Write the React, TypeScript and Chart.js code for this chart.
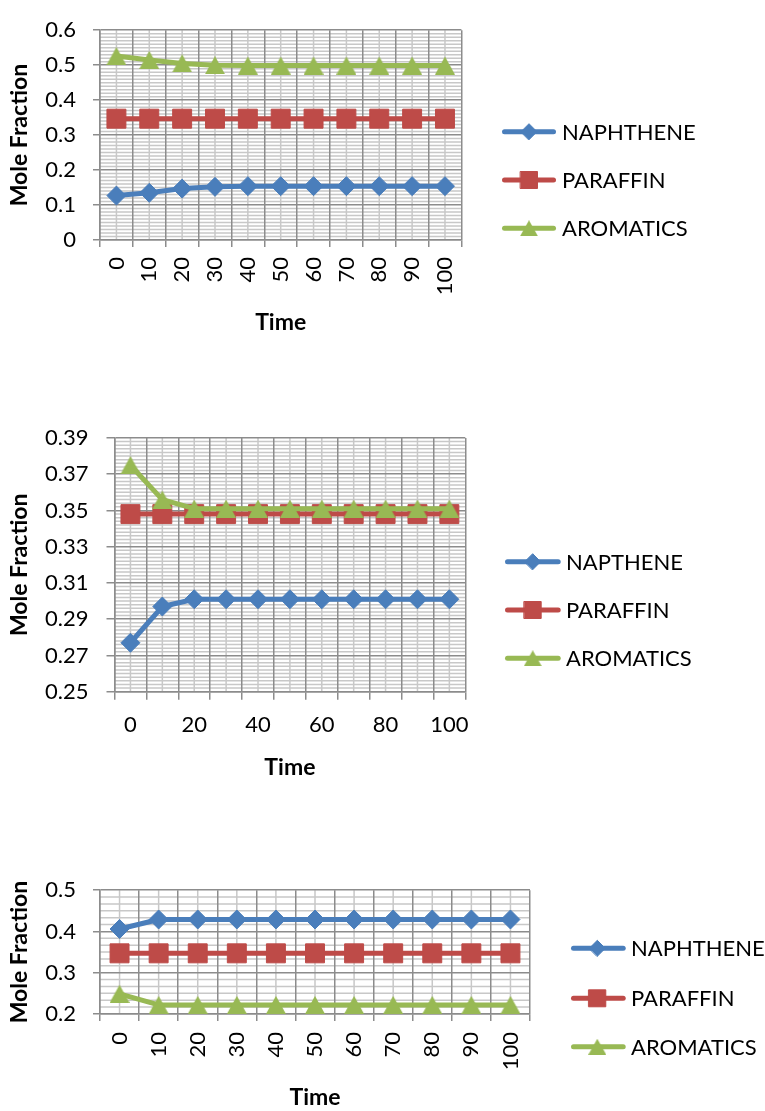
import React, { useEffect, useRef } from 'react';
import { Chart, registerables } from 'chart.js';
import { drawPoint } from 'chart.js/helpers';

Chart.register(...registerables);

// ---------- data ----------
const timeLabels = ['0', '10', '20', '30', '40', '50', '60', '70', '80', '90', '100'];

const names1 = ['NAPHTHENE', 'PARAFFIN', 'AROMATICS'];
const naphthene1 = [0.127, 0.135, 0.147, 0.152, 0.154, 0.154, 0.154, 0.154, 0.154, 0.154, 0.154];
const paraffin1 = [0.347, 0.347, 0.347, 0.347, 0.347, 0.347, 0.347, 0.347, 0.347, 0.347, 0.347];
const aromatics1 = [0.526, 0.515, 0.505, 0.5, 0.499, 0.499, 0.499, 0.499, 0.499, 0.499, 0.499];
const yTicks1 = [0, 0.1, 0.2, 0.3, 0.4, 0.5, 0.6];
const yTickLabels1 = ['0', '0.1', '0.2', '0.3', '0.4', '0.5', '0.6'];

const names2 = ['NAPTHENE', 'PARAFFIN', 'AROMATICS'];
const naphthene2 = [0.277, 0.297, 0.301, 0.301, 0.301, 0.301, 0.301, 0.301, 0.301, 0.301, 0.301];
const paraffin2 = [0.348, 0.348, 0.348, 0.348, 0.348, 0.348, 0.348, 0.348, 0.348, 0.348, 0.348];
const aromatics2 = [0.375, 0.356, 0.351, 0.351, 0.351, 0.351, 0.351, 0.351, 0.351, 0.351, 0.351];
const yTicks2 = [0.25, 0.27, 0.29, 0.31, 0.33, 0.35, 0.37, 0.39];
const yTickLabels2 = ['0.25', '0.27', '0.29', '0.31', '0.33', '0.35', '0.37', '0.39'];

const names3 = ['NAPHTHENE', 'PARAFFIN', 'AROMATICS'];
const naphthene3 = [0.406, 0.429, 0.429, 0.429, 0.429, 0.429, 0.429, 0.429, 0.429, 0.429, 0.429];
const paraffin3 = [0.347, 0.347, 0.347, 0.347, 0.347, 0.347, 0.347, 0.347, 0.347, 0.347, 0.347];
const aromatics3 = [0.249, 0.222, 0.222, 0.222, 0.222, 0.222, 0.222, 0.222, 0.222, 0.222, 0.222];
const yTicks3 = [0.2, 0.3, 0.4, 0.5];
const yTickLabels3 = ['0.2', '0.3', '0.4', '0.5'];

// ---------- styles ----------
const COLORS = ['#4A7EBB', '#BE4B48', '#98B954'];
const MAJOR = '#8c8c8c';
const MINOR = '#c8c8c8';
const FONT = "Lato, 'Open Sans', sans-serif";

function triangleImage(color: string, w: number, h: number) {
  const c = document.createElement('canvas');
  c.width = w;
  c.height = h;
  const g = c.getContext('2d')!;
  g.fillStyle = color;
  g.beginPath();
  g.moveTo(w / 2, 0);
  g.lineTo(w, h);
  g.lineTo(0, h);
  g.closePath();
  g.fill();
  return c;
}

type Spec = {
  top: number;
  height: number;
  names: string[];
  series: number[][];
  yTicks: number[];
  yTickLabels: string[];
  minorPerMajor: number;
  pad: { left: number; top: number; right: number };
  yWidth: number;
  xHeight: number;
  rotate: boolean;
  skipOdd: boolean;
  xTickPad: number;
  yTickPad: number;
  tickLen: number;
  legend: { x0: number; x1: number; xm: number; xt: number; ys: number[] };
};

const specs: Spec[] = [
  {
    top: 0, height: 336, names: names1, series: [naphthene1, paraffin1, aromatics1],
    yTicks: yTicks1, yTickLabels: yTickLabels1, minorPerMajor: 10,
    pad: { left: 6, top: 18.3, right: 303.6 }, yWidth: 94, xHeight: 96,
    rotate: true, skipOdd: false, xTickPad: 10, yTickPad: 17, tickLen: 7,
    legend: { x0: 502, x1: 556, xm: 529, xt: 562, ys: [131.7, 180, 228.3] },
  },
  {
    top: 400, height: 381, names: names2, series: [naphthene2, paraffin2, aromatics2],
    yTicks: yTicks2, yTickLabels: yTickLabels2, minorPerMajor: 10,
    pad: { left: 6, top: 38, right: 299.7 }, yWidth: 108.5, xHeight: 89.3,
    rotate: false, skipOdd: true, xTickPad: 12, yTickPad: 18, tickLen: 8,
    legend: { x0: 505, x1: 560.7, xm: 532.7, xt: 566, ys: [161.7, 210, 258.3] },
  },
  {
    top: 860, height: 251, names: names3, series: [naphthene3, paraffin3, aromatics3],
    yTicks: yTicks3, yTickLabels: yTickLabels3, minorPerMajor: 6,
    pad: { left: 6, top: 21, right: 235 }, yWidth: 94, xHeight: 97,
    rotate: true, skipOdd: false, xTickPad: 11, yTickPad: 17, tickLen: 7,
    legend: { x0: 571, x1: 625.7, xm: 597.3, xt: 631, ys: [88.3, 138.3, 186.7] },
  },
];

function buildChart(canvas: HTMLCanvasElement, spec: Spec) {
  const tri = triangleImage(COLORS[2], 20, 18);
  const triLegend = triangleImage(COLORS[2], 18, 16);
  const pointStyles: any[] = ['rectRot', 'rect', tri];
  const pointRadii = [9.5, 13.4, 10];

  const minorGrid = {
    id: 'minorGrid',
    beforeDraw(chart: any) {
      const { ctx, chartArea: a, scales } = chart;
      const x = scales.x;
      const y = scales.y;
      ctx.save();
      ctx.strokeStyle = MINOR;
      ctx.lineWidth = 1.5;
      ctx.beginPath();
      for (let i = 0; i < timeLabels.length; i++) {
        const px = x.getPixelForValue(i);
        ctx.moveTo(px, a.top);
        ctx.lineTo(px, a.bottom);
      }
      const t = spec.yTicks;
      for (let k = 0; k < t.length - 1; k++) {
        const step = (t[k + 1] - t[k]) / spec.minorPerMajor;
        for (let m = 1; m < spec.minorPerMajor; m++) {
          const py = y.getPixelForValue(t[k] + m * step);
          ctx.moveTo(a.left, py);
          ctx.lineTo(a.right, py);
        }
      }
      ctx.stroke();
      ctx.restore();
    },
  };

  const customLegend = {
    id: 'customLegend',
    afterDraw(chart: any) {
      const { ctx } = chart;
      const L = spec.legend;
      spec.names.forEach((name, i) => {
        const yy = L.ys[i];
        ctx.save();
        ctx.strokeStyle = COLORS[i];
        ctx.lineWidth = 5;
        ctx.lineCap = 'round';
        ctx.beginPath();
        ctx.moveTo(L.x0 + 2.5, yy);
        ctx.lineTo(L.x1 - 2.5, yy);
        ctx.stroke();
        ctx.fillStyle = COLORS[i];
        ctx.strokeStyle = COLORS[i];
        ctx.lineWidth = 1;
        if (i === 2) {
          ctx.drawImage(triLegend, L.xm - triLegend.width / 2, yy - triLegend.height / 2);
        } else {
          drawPoint(ctx, { pointStyle: pointStyles[i], radius: i === 0 ? 8 : 12, rotation: 0, borderWidth: 1 } as any, L.xm, yy);
        }
        ctx.fillStyle = '#000';
        ctx.font = `22px ${FONT}`;
        ctx.textAlign = 'left';
        ctx.textBaseline = 'middle';
        ctx.fillText(name, L.xt, yy + 1);
        ctx.restore();
      });
    },
  };

  const datasets = spec.series.map((data, i) => ({
    label: spec.names[i],
    data,
    borderColor: COLORS[i],
    backgroundColor: COLORS[i],
    borderWidth: 5,
    borderJoinStyle: 'round' as const,
    borderCapStyle: 'round' as const,
    pointStyle: pointStyles[i],
    pointRadius: pointRadii[i],
    pointHoverRadius: pointRadii[i],
    pointBorderWidth: 1,
    pointBackgroundColor: COLORS[i],
    pointBorderColor: COLORS[i],
    tension: 0,
    fill: false,
    order: 3 - i,
  }));

  const tickFont = { family: FONT, size: 22 };
  const titleFont = { family: FONT, size: 23, weight: 'bold' as const };

  return new Chart(canvas, {
    type: 'line',
    data: { labels: timeLabels, datasets },
    plugins: [minorGrid, customLegend],
    options: {
      responsive: false,
      animation: false,
      devicePixelRatio: 1,
      layout: { padding: { left: spec.pad.left, top: spec.pad.top, right: spec.pad.right, bottom: 0 } },
      plugins: { legend: { display: false }, tooltip: { enabled: false } },
      events: [],
      scales: {
        x: {
          type: 'category',
          offset: true,
          grid: { offset: true, color: MAJOR, lineWidth: 1.5, tickLength: spec.tickLen, tickColor: MAJOR, drawTicks: true },
          border: { display: true, color: MAJOR, width: 1.5 },
          ticks: {
            font: tickFont,
            color: '#000',
            autoSkip: false,
            minRotation: spec.rotate ? 90 : 0,
            maxRotation: spec.rotate ? 90 : 0,
            padding: spec.xTickPad,
            callback: (_v: any, i: number) => (spec.skipOdd && i % 2 === 1 ? '' : timeLabels[i]),
          },
          title: { display: true, text: 'Time', font: titleFont, color: '#000', padding: 0 },
          afterFit: (s: any) => { s.height = spec.xHeight; },
        },
        y: {
          type: 'linear',
          min: spec.yTicks[0],
          max: spec.yTicks[spec.yTicks.length - 1],
          afterBuildTicks: (s: any) => { s.ticks = spec.yTicks.map((v) => ({ value: v })); },
          grid: { color: MAJOR, lineWidth: 1.5, tickLength: spec.tickLen, tickColor: MAJOR, drawTicks: true },
          border: { display: true, color: MAJOR, width: 1.5 },
          ticks: {
            font: tickFont,
            color: '#000',
            padding: spec.yTickPad,
            callback: (v: any) => {
              const idx = spec.yTicks.findIndex((t) => Math.abs(t - v) < 1e-9);
              return idx >= 0 ? spec.yTickLabels[idx] : '';
            },
          },
          title: { display: true, text: 'Mole Fraction', font: titleFont, color: '#000', padding: 0 },
          afterFit: (s: any) => { s.width = spec.yWidth; },
        },
      },
    } as any,
  });
}

function MoleChart({ spec }: { spec: Spec }) {
  const ref = useRef<HTMLCanvasElement>(null);
  useEffect(() => {
    const chart = buildChart(ref.current!, spec);
    return () => chart.destroy();
  }, [spec]);
  return (
    <div style={{ position: 'absolute', left: 0, top: spec.top, width: 765, height: spec.height }}>
      <canvas ref={ref} width={765} height={spec.height} style={{ display: 'block' }} />
    </div>
  );
}

export default function App() {
  return (
    <div style={{ position: 'absolute', left: 0, top: 0, width: 765, height: 1111, background: '#fff' }}>
      {specs.map((s, i) => (
        <MoleChart key={i} spec={s} />
      ))}
    </div>
  );
}
